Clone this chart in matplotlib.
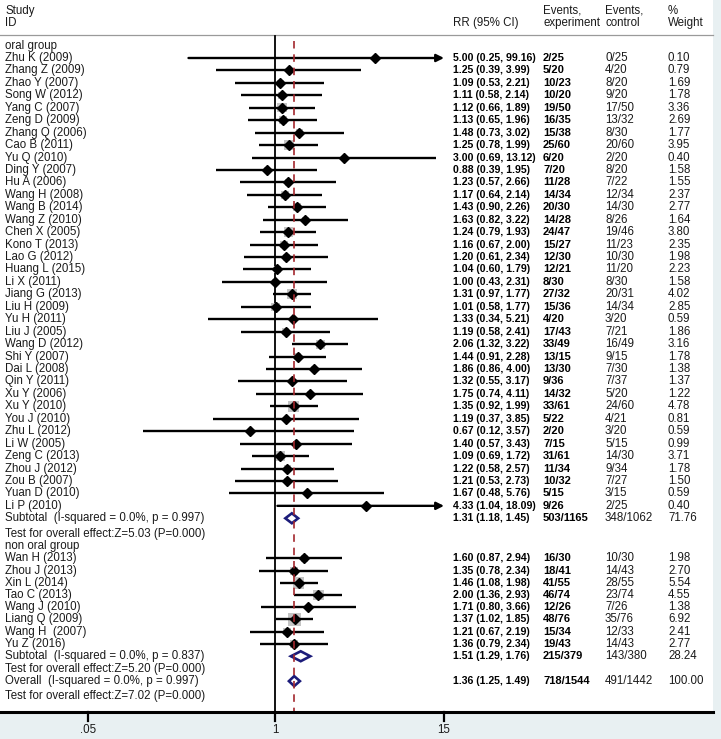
import matplotlib
matplotlib.use("Agg")
import matplotlib.pyplot as plt
import matplotlib.transforms as mtransforms
from matplotlib.patches import Rectangle, Polygon
import numpy as np

plt.rcParams['font.family'] = ['Liberation Sans', 'DejaVu Sans']

# ---- data ----
oral_study = ["Zhu K (2009)", "Zhang Z (2009)", "Zhao Y (2007)", "Song W (2012)", "Yang C (2007)",
              "Zeng D (2009)", "Zhang Q (2006)", "Cao B (2011)", "Yu Q (2010)", "Ding Y (2007)",
              "Hu A (2006)", "Wang H (2008)", "Wang B (2014)", "Wang Z (2010)", "Chen X (2005)",
              "Kono T (2013)", "Lao G (2012)", "Huang L (2015)", "Li X (2011)", "Jiang G (2013)",
              "Liu H (2009)", "Yu H (2011)", "Liu J (2005)", "Wang D (2012)", "Shi Y (2007)",
              "Dai L (2008)", "Qin Y (2011)", "Xu Y (2006)", "Xu Y (2010)", "You J (2010)",
              "Zhu L (2012)", "Li W (2005)", "Zeng C (2013)", "Zhou J (2012)", "Zou B (2007)",
              "Yuan D (2010)", "Li P (2010)"]
oral_rr = [5.00, 1.25, 1.09, 1.11, 1.12, 1.13, 1.48, 1.25, 3.00, 0.88, 1.23, 1.17, 1.43, 1.63, 1.24,
           1.16, 1.20, 1.04, 1.00, 1.31, 1.01, 1.33, 1.19, 2.06, 1.44, 1.86, 1.32, 1.75, 1.35, 1.19,
           0.67, 1.40, 1.09, 1.22, 1.21, 1.67, 4.33]
oral_lo = [0.25, 0.39, 0.53, 0.58, 0.66, 0.65, 0.73, 0.78, 0.69, 0.39, 0.57, 0.64, 0.90, 0.82, 0.79,
           0.67, 0.61, 0.60, 0.43, 0.97, 0.58, 0.34, 0.58, 1.32, 0.91, 0.86, 0.55, 0.74, 0.92, 0.37,
           0.12, 0.57, 0.69, 0.58, 0.53, 0.48, 1.04]
oral_hi = [99.16, 3.99, 2.21, 2.14, 1.89, 1.96, 3.02, 1.99, 13.12, 1.95, 2.66, 2.14, 2.26, 3.22, 1.93,
           2.00, 2.34, 1.79, 2.31, 1.77, 1.77, 5.21, 2.41, 3.22, 2.28, 4.00, 3.17, 4.11, 1.99, 3.85,
           3.57, 3.43, 1.72, 2.57, 2.73, 5.76, 18.09]
oral_exp = ["2/25", "5/20", "10/23", "10/20", "19/50", "16/35", "15/38", "25/60", "6/20", "7/20",
            "11/28", "14/34", "20/30", "14/28", "24/47", "15/27", "12/30", "12/21", "8/30", "27/32",
            "15/36", "4/20", "17/43", "33/49", "13/15", "13/30", "9/36", "14/32", "33/61", "5/22",
            "2/20", "7/15", "31/61", "11/34", "10/32", "5/15", "9/26"]
oral_ctl = ["0/25", "4/20", "8/20", "9/20", "17/50", "13/32", "8/30", "20/60", "2/20", "8/20",
            "7/22", "12/34", "14/30", "8/26", "19/46", "11/23", "10/30", "11/20", "8/30", "20/31",
            "14/34", "3/20", "7/21", "16/49", "9/15", "7/30", "7/37", "5/20", "24/60", "4/21",
            "3/20", "5/15", "14/30", "9/34", "7/27", "3/15", "2/25"]
oral_w = [0.10, 0.79, 1.69, 1.78, 3.36, 2.69, 1.77, 3.95, 0.40, 1.58, 1.55, 2.37, 2.77, 1.64, 3.80,
          2.35, 1.98, 2.23, 1.58, 4.02, 2.85, 0.59, 1.86, 3.16, 1.78, 1.38, 1.37, 1.22, 4.78, 0.81,
          0.59, 0.99, 3.71, 1.78, 1.50, 0.59, 0.40]

non_study = ["Wan H (2013)", "Zhou J (2013)", "Xin L (2014)", "Tao C (2013)", "Wang J (2010)",
             "Liang Q (2009)", "Wang H  (2007)", "Yu Z (2016)"]
non_rr = [1.60, 1.35, 1.46, 2.00, 1.71, 1.37, 1.21, 1.36]
non_lo = [0.87, 0.78, 1.08, 1.36, 0.80, 1.02, 0.67, 0.79]
non_hi = [2.94, 2.34, 1.98, 2.93, 3.66, 1.85, 2.19, 2.34]
non_exp = ["16/30", "18/41", "41/55", "46/74", "12/26", "48/76", "15/34", "19/43"]
non_ctl = ["10/30", "14/43", "28/55", "23/74", "7/26", "35/76", "12/33", "14/43"]
non_w = [1.98, 2.70, 5.54, 4.55, 1.38, 6.92, 2.41, 2.77]

# pooled: rr, lo, hi, events exp, events ctl, weight, label, test text
pooled_oral = [1.31, 1.18, 1.45, "503/1165", "348/1062", "71.76",
               "Subtotal  (I-squared = 0.0%, p = 0.997)", "Test for overall effect:Z=5.03 (P=0.000)"]
pooled_non = [1.51, 1.29, 1.76, "215/379", "143/380", "28.24",
              "Subtotal  (I-squared = 0.0%, p = 0.837)", "Test for overall effect:Z=5.20 (P=0.000)"]
pooled_all = [1.36, 1.25, 1.49, "718/1544", "491/1442", "100.00",
              "Overall  (I-squared = 0.0%, p = 0.997)", "Test for overall effect:Z=7.02 (P=0.000)"]

xticks = [0.05, 1, 15]
xticklabels = [".05", "1", "15"]
clip_hi = 15

# ---- layout (pixels) ----
W, H = 721, 739
panel_r, axis_y = 713, 712
row0, dy = 45.56, 12.44          # pixel y of row r = row0 + dy*r
px_one, px_per_ln = 275, 62.4

fig = plt.figure(figsize=(W / 100, H / 100), dpi=100)
fig.patch.set_facecolor('#e8f0f2')
panel = Rectangle((0, 1 - axis_y / H), panel_r / W, axis_y / H,
                  transform=fig.transFigure, facecolor='white', edgecolor='none', zorder=-10)
fig.patches.append(panel)

ax = fig.add_axes([0, 1 - axis_y / H, 1, axis_y / H])
ax.set_zorder(5)
ax.set_facecolor('none')
ax.set_xscale('log')
ax.set_xlim(np.exp(-px_one / px_per_ln), np.exp((W - px_one) / px_per_ln))
ax.set_ylim((axis_y - row0) / dy, -row0 / dy)
ax.axis('off')

tr = mtransforms.blended_transform_factory(fig.transFigure, ax.transData)


def y_of(px):
    return (px - row0) / dy


def fx(px):
    return px / W


col_rr, col_exp, col_ctl, col_w = 453, 543, 605, 668
fs = 8.3
fs_rr = 7.6
fs_ev = 8.0
tc = '#1a1a1a'

# header
ax.text(fx(5), -2.8, "Study", transform=tr, fontsize=fs, va='center', color=tc)
ax.text(fx(5), -1.8, "ID", transform=tr, fontsize=fs, va='center', color=tc)
ax.text(fx(col_rr), -1.8, "RR (95% CI)", transform=tr, fontsize=fs, va='center', color=tc)
ax.text(fx(col_exp), -2.8, "Events,", transform=tr, fontsize=fs, va='center', color=tc)
ax.text(fx(col_exp), -1.8, "experiment", transform=tr, fontsize=fs, va='center', color=tc)
ax.text(fx(col_ctl), -2.8, "Events,", transform=tr, fontsize=fs, va='center', color=tc)
ax.text(fx(col_ctl), -1.8, "control", transform=tr, fontsize=fs, va='center', color=tc)
ax.text(fx(col_w), -2.8, "%", transform=tr, fontsize=fs, va='center', color=tc)
ax.text(fx(col_w), -1.8, "Weight", transform=tr, fontsize=fs, va='center', color=tc)
ax.plot([0, panel_r / W], [y_of(35), y_of(35)], transform=tr, color='#9a9a9a', lw=0.9, clip_on=False)

# reference lines
ax.plot([1, 1], [y_of(36), y_of(axis_y)], color='black', lw=1.3, zorder=2)
ax.plot([pooled_all[0]] * 2, [y_of(41), y_of(axis_y)], color='#a3272d', lw=1.2,
        dashes=(4.5, 3.5), zorder=6)


def study_row(r, name, rr, lo, hi, ev_e, ev_c, w):
    side = 5.0 * np.sqrt(w) / dy
    hw = side / 2
    # gray weight box, in pixel units converted to data
    x0 = np.exp(np.log(rr) - hw * dy / px_per_ln)
    x1 = np.exp(np.log(rr) + hw * dy / px_per_ln)
    ax.add_patch(Rectangle((x0, r - hw), x1 - x0, side, facecolor='#c4c4c4', edgecolor='none', zorder=3))
    if hi > clip_hi:
        ax.annotate("", xy=(clip_hi, r), xytext=(lo, r),
                    arrowprops=dict(arrowstyle='-|>', lw=1.7, color='black',
                                    mutation_scale=11, shrinkA=0, shrinkB=0), zorder=4)
    else:
        ax.plot([lo, hi], [r, r], color='black', lw=1.7, solid_capstyle='butt', zorder=4)
    ax.plot(rr, r, marker='D', ms=5.0, color='black', zorder=5)
    ax.text(fx(5), r, name, transform=tr, fontsize=fs, va='center', color=tc)
    ax.text(fx(col_rr), r, "%.2f (%.2f, %.2f)" % (rr, lo, hi), transform=tr, fontsize=fs_rr,
            va='center', fontweight='bold', color='black')
    ax.text(fx(col_exp), r, ev_e, transform=tr, fontsize=fs_ev, va='center', fontweight='bold', color='black')
    ax.text(fx(col_ctl), r, ev_c, transform=tr, fontsize=fs, va='center', color=tc)
    ax.text(fx(col_w), r, "%.2f" % w, transform=tr, fontsize=fs, va='center', color=tc)


def pooled_row(r, p, test_r):
    rr, lo, hi, ev_e, ev_c, w, label, test = p
    h = 0.4
    ax.add_patch(Polygon([(lo, r), (rr, r - h), (hi, r), (rr, r + h)], closed=True,
                         facecolor='white', edgecolor='#1c1c7a', lw=1.9, zorder=5))
    ax.text(fx(5), r, label, transform=tr, fontsize=fs, va='center', color=tc)
    ax.text(fx(5), test_r, test, transform=tr, fontsize=fs, va='center', color=tc)
    ax.text(fx(col_rr), r, "%.2f (%.2f, %.2f)" % (rr, lo, hi), transform=tr, fontsize=fs_rr,
            va='center', fontweight='bold', color='black')
    ax.text(fx(col_exp), r, ev_e, transform=tr, fontsize=fs_ev, va='center', fontweight='bold', color='black')
    ax.text(fx(col_ctl), r, ev_c, transform=tr, fontsize=fs, va='center', color=tc)
    ax.text(fx(col_w), r, w, transform=tr, fontsize=fs, va='center', color=tc)


r = 0
ax.text(fx(5), r, "oral group", transform=tr, fontsize=fs, va='center', color=tc)
for i in range(len(oral_study)):
    r += 1
    study_row(r, oral_study[i], oral_rr[i], oral_lo[i], oral_hi[i], oral_exp[i], oral_ctl[i], oral_w[i])
r += 1
pooled_row(r, pooled_oral, r + 1.3)
r += 2.25
ax.text(fx(5), r, "non oral group", transform=tr, fontsize=fs, va='center', color=tc)
for i in range(len(non_study)):
    r += 0.98
    study_row(r, non_study[i], non_rr[i], non_lo[i], non_hi[i], non_exp[i], non_ctl[i], non_w[i])
r += 1
pooled_row(r, pooled_non, r + 1.05)
r += 2
pooled_row(r, pooled_all, r + 1.2)

# bottom axis
ax.plot([0, panel_r / W], [y_of(axis_y), y_of(axis_y)], transform=tr, color='black', lw=2.2,
        clip_on=False, zorder=7)
for t, lab in zip(xticks, xticklabels):
    ax.plot([t, t], [y_of(axis_y), y_of(axis_y + 9)], color='black', lw=1.6, clip_on=False)
    ax.text(t, y_of(730), lab, ha='center', va='center', fontsize=fs, color=tc, clip_on=False)

fig.savefig("out.png", dpi=100, facecolor=fig.get_facecolor())
